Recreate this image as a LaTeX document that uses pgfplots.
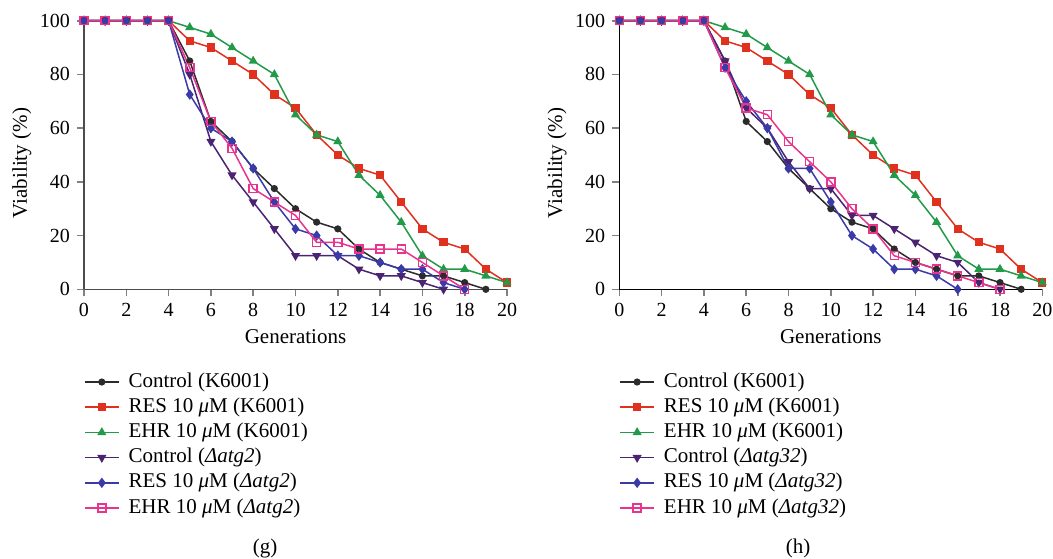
\documentclass[border=0pt]{standalone}
\usepackage{fontspec}
\setmainfont{Liberation Serif}
\usepackage{pgfplots}
\pgfplotsset{compat=1.18}
\definecolor{cctl}{HTML}{2B2B2B}
\definecolor{cres}{HTML}{E0301E}
\definecolor{cehr}{HTML}{229A4A}
\definecolor{cdctl}{HTML}{4A2372}
\definecolor{cdres}{HTML}{3A3AA8}
\definecolor{cdehr}{HTML}{E8348C}

\pgfplotsset{
  vplot/.style={
    scale only axis, width=211.5pt, height=134.3pt,
    xmin=0, xmax=20, ymin=0, ymax=100,
    xtick={0,2,...,20}, ytick={0,20,...,100},
    axis x line=bottom, axis y line=left,
    axis line style={-, line width=0.8pt},
    tick align=outside, major tick length=3.5pt,
    tick style={line width=0.8pt},
    clip=false,
    /pgf/number format/assume math mode=true,
    tick label style={font=\fontsize{10}{12}\selectfont},
    label style={font=\fontsize{10.5}{12}\selectfont},
    xlabel={Generations}, ylabel={Viability (\%)},
    xlabel style={at={(axis description cs:0.5,-0.178)}, anchor=center},
    ylabel style={at={(axis description cs:-0.147,0.47)}, anchor=center},
    legend style={draw=none, fill=none, at={(axis description cs:0,-0.308)},
      anchor=north west, inner sep=0pt, outer sep=0pt, row sep=2.6pt,
      font=\fontsize{10.5}{12}\selectfont,
      nodes={inner sep=0pt, text height=7.5pt, text depth=2.5pt},
      /tikz/every odd column/.append style={column sep=4.5pt}},
    legend cell align=left,
    every axis plot/.append style={line width=0.75pt},
  },
  sctl/.style={color=cctl, mark=*, mark size=1.4pt},
  sres/.style={color=cres, mark=square*, mark size=1.7pt},
  sehr/.style={color=cehr, mark=triangle*, mark size=1.9pt},
  sdctl/.style={color=cdctl, mark=triangle*, mark size=1.9pt, mark options={rotate=180}},
  sdres/.style={color=cdres, mark=diamond*, mark size=2pt},
  sdehr/.style={color=cdehr, mark=square, mark size=2pt},
}

\begin{document}
\begin{tikzpicture}
\useasboundingbox (0,0) rectangle (526.5pt,279pt);

% (g)
\begin{axis}[vplot, at={(42pt,134.35pt)}, anchor=south west, axis line style={black!70}]
\addplot[sctl] coordinates {(0,100) (1,100) (2,100) (3,100) (4,100) (5,85) (6,62.5) (7,55) (8,45) (9,37.5) (10,30) (11,25) (12,22.5) (13,15) (14,10) (15,7.5) (16,5) (17,5) (18,2.5) (19,0)};
\addplot[sres] coordinates {(0,100) (1,100) (2,100) (3,100) (4,100) (5,92.5) (6,90) (7,85) (8,80) (9,72.5) (10,67.5) (11,57.5) (12,50) (13,45) (14,42.5) (15,32.5) (16,22.5) (17,17.5) (18,15) (19,7.5) (20,2.5)};
\addplot[sehr] coordinates {(0,100) (1,100) (2,100) (3,100) (4,100) (5,97.5) (6,95) (7,90) (8,85) (9,80) (10,65) (11,57.5) (12,55) (13,42.5) (14,35) (15,25) (16,12.5) (17,7.5) (18,7.5) (19,5) (20,2.5)};
\addplot[sdctl] coordinates {(0,100) (1,100) (2,100) (3,100) (4,100) (5,80) (6,55) (7,42.5) (8,32.5) (9,22.5) (10,12.5) (11,12.5) (12,12.5) (13,7.5) (14,5) (15,5) (16,2.5) (17,0)};
\addplot[sdres] coordinates {(0,100) (1,100) (2,100) (3,100) (4,100) (5,72.5) (6,60) (7,55) (8,45) (9,32.5) (10,22.5) (11,20) (12,12.5) (13,12.5) (14,10) (15,7.5) (16,7.5) (17,2.5) (18,0)};
\addplot[sdehr] coordinates {(0,100) (1,100) (2,100) (3,100) (4,100) (5,82.5) (6,62.5) (7,52.5) (8,37.5) (9,32.5) (10,27.5) (11,17.5) (12,17.5) (13,15) (14,15) (15,15) (16,10) (17,5) (18,0)};
\legend{Control (K6001), RES 10 \textit{μ}M (K6001), EHR 10 \textit{μ}M (K6001),
  Control (\textit{Δatg2}), RES 10 \textit{μ}M (\textit{Δatg2}), EHR 10 \textit{μ}M (\textit{Δatg2})}
\end{axis}

% (h)
\begin{axis}[vplot, at={(309.65pt,134.35pt)}, anchor=south west]
\addplot[sctl] coordinates {(0,100) (1,100) (2,100) (3,100) (4,100) (5,85) (6,62.5) (7,55) (8,45) (9,37.5) (10,30) (11,25) (12,22.5) (13,15) (14,10) (15,7.5) (16,5) (17,5) (18,2.5) (19,0)};
\addplot[sres] coordinates {(0,100) (1,100) (2,100) (3,100) (4,100) (5,92.5) (6,90) (7,85) (8,80) (9,72.5) (10,67.5) (11,57.5) (12,50) (13,45) (14,42.5) (15,32.5) (16,22.5) (17,17.5) (18,15) (19,7.5) (20,2.5)};
\addplot[sehr] coordinates {(0,100) (1,100) (2,100) (3,100) (4,100) (5,97.5) (6,95) (7,90) (8,85) (9,80) (10,65) (11,57.5) (12,55) (13,42.5) (14,35) (15,25) (16,12.5) (17,7.5) (18,7.5) (19,5) (20,2.5)};
\addplot[sdctl] coordinates {(0,100) (1,100) (2,100) (3,100) (4,100) (5,85) (6,67.5) (7,60) (8,47.5) (9,37.5) (10,37.5) (11,27.5) (12,27.5) (13,22.5) (14,17.5) (15,12.5) (16,10) (17,2.5) (18,0)};
\addplot[sdres] coordinates {(0,100) (1,100) (2,100) (3,100) (4,100) (5,82.5) (6,70) (7,60) (8,45) (9,45) (10,32.5) (11,20) (12,15) (13,7.5) (14,7.5) (15,5) (16,0)};
\addplot[sdehr] coordinates {(0,100) (1,100) (2,100) (3,100) (4,100) (5,82.5) (6,67.5) (7,65) (8,55) (9,47.5) (10,40) (11,30) (12,22.5) (13,12.5) (14,10) (15,7.5) (16,5) (17,2.5) (18,0)};
\legend{Control (K6001), RES 10 \textit{μ}M (K6001), EHR 10 \textit{μ}M (K6001),
  Control (\textit{Δatg32}), RES 10 \textit{μ}M (\textit{Δatg32}), EHR 10 \textit{μ}M (\textit{Δatg32})}
\end{axis}

\node[font=\fontsize{10.5}{12}\selectfont] at (132.5pt,5pt) {(g)};
\node[font=\fontsize{10.5}{12}\selectfont] at (399pt,5pt) {(h)};
\end{tikzpicture}
\end{document}
